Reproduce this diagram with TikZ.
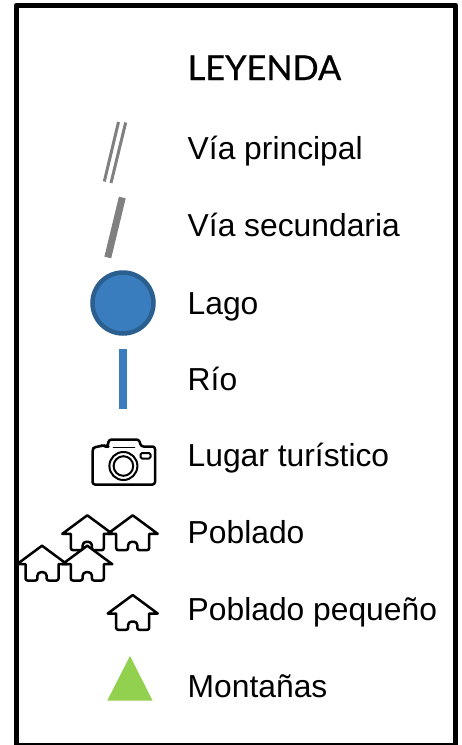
\documentclass[tikz,border=0pt]{standalone}
\usepackage{fontspec}
\setmainfont{Liberation Sans}
\newfontfamily\titlefont[FakeBold=0.6]{Lato}
\tikzset{
  x=1pt,y=-1pt,
  lbl/.style={anchor=base west,inner sep=0pt,font=\fontsize{31.8}{36}\selectfont},
  ttl/.style={anchor=base west,inner sep=0pt,font=\titlefont\fontsize{34.3}{40}\selectfont},
  roadthin/.style={draw=roadgray,line width=3pt},
  roadthick/.style={draw=roadgray,line width=7pt},
  icon/.style={draw=black,line width=2.5pt,line join=round,line cap=round,fill=none},
  house/.pic={
    \draw[icon] (-25,19.5) -- (0,1) -- (25,19.5) -- (16.5,19.5) -- (16.5,33) [rounded corners=2pt] -- (16.5,35.8) -- (4.6,35.8) [rounded corners=3.5pt] -- (4.6,27.5) -- (-4.6,27.5) [rounded corners=2pt] -- (-4.6,35.8) -- (-16.5,35.8) [sharp corners] -- (-16.5,19.5) -- cycle;
  }
}
\definecolor{roadgray}{HTML}{808080}
\definecolor{lakefill}{HTML}{3A7DBE}
\definecolor{lakeedge}{HTML}{2A5F8F}
\definecolor{rivercol}{HTML}{3A7DBE}
\definecolor{mountcol}{HTML}{92D050}
\begin{document}
\begin{tikzpicture}
\useasboundingbox (0,0) rectangle (462,745);
\fill[white] (0,0) rectangle (462,745);
\draw[black,line width=5pt,line join=round] (16.5,5) -- (455.5,5) -- (455.5,745.5) -- (16.5,745.5) -- cycle;
\node[ttl] (title) at (187.5,80) {LEYENDA};
\node[lbl] (t1) at (187.5,159) {Vía principal};
\node[lbl] (t2) at (187.5,236) {Vía secundaria};
\node[lbl] (t3) at (187.5,314) {Lago};
\node[lbl] (t4) at (187.5,390) {Río};
\node[lbl] (t5) at (187.5,466) {Lugar turístico};
\node[lbl] (t6) at (187.5,543) {Poblado};
\node[lbl] (t7) at (187.5,620) {Poblado pequeño};
\node[lbl] (t8) at (187.5,697) {Montañas};
\draw[roadthin] (118.5,122) -- (104.3,181.5);
\draw[roadthin] (125.7,122.5) -- (111,183);
\draw[roadthick] (122.3,197.5) -- (107.8,257.5);
\draw[lakeedge,fill=lakefill,line width=4.5pt] (123,303) circle (30.5);
\fill[rivercol] (118.5,349) rectangle (127,409);
% camera
\draw[icon,rounded corners=2.5pt] (92.5,450) -- (94,447) -- (100,446.5) -- (103,445) -- (106,446.5) -- (107.5,446.5) -- (109,439.5) -- (139,439.5) -- (141,446.5) -- (155,446.5) -- (155,484.5) -- (92.5,484.5) -- cycle;
\draw[icon,line width=1.8pt] (113.5,447.5) -- (134.5,447.5);
\draw[icon,line width=2pt] (123.4,466) circle (14);
\draw[icon,line width=2pt] (123.4,466) circle (9.8);
\draw[icon,line width=2pt,rounded corners=1.5pt] (140.5,453) rectangle (150.5,458.5);
% houses
\pic at (87.3,514.3) {house};
\pic at (132.7,514.3) {house};
\pic at (42,544.7) {house};
\pic at (87.3,544.7) {house};
\pic at (132.7,594) {house};
\fill[mountcol] (130,656) -- (152.5,700.5) -- (107.3,700.5) -- cycle;
\end{tikzpicture}
\end{document}
